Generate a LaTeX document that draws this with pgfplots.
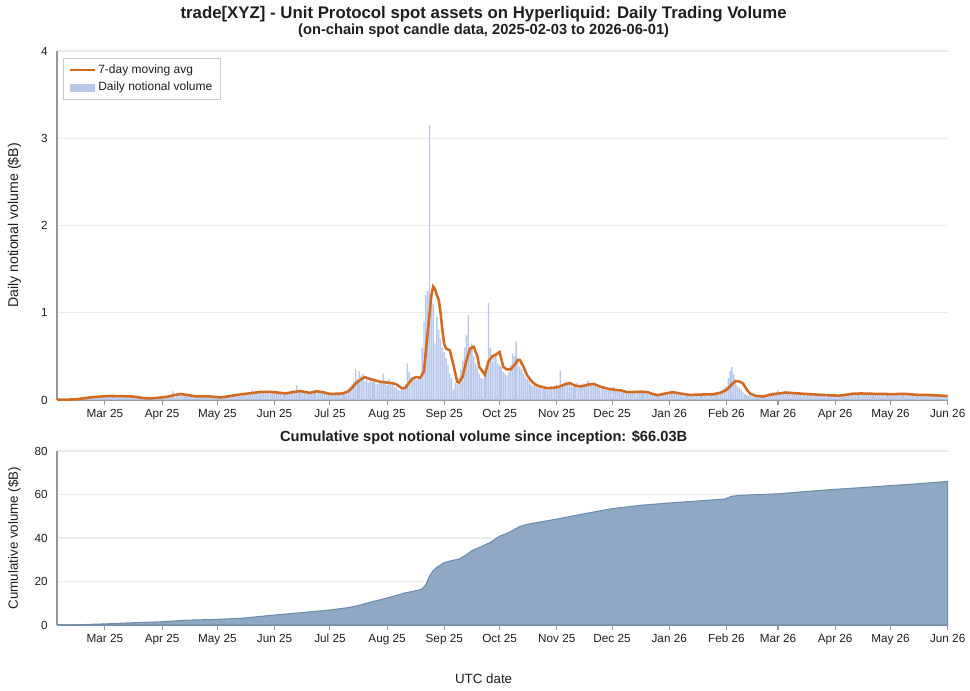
\documentclass[border=0pt]{standalone}
\usepackage{fontspec}
\setmainfont{Liberation Sans}
\usepackage{pgfplots}
\pgfplotsset{compat=1.18}
\usepackage{pgfplotstable}
\definecolor{barblue}{RGB}{184,199,234}
\definecolor{maorange}{RGB}{212,105,32}
\definecolor{cumfill}{RGB}{143,169,196}
\definecolor{cumline}{RGB}{110,140,175}
\definecolor{axisgray}{RGB}{150,150,150}
\definecolor{gridgray}{RGB}{236,236,236}
\definecolor{txtgray}{RGB}{30,30,30}

\pgfplotstableread[header=false,row sep=\\]{
0.002\\0.003\\0.004\\0.003\\0.005\\0.004\\0.006\\
0.005\\0.008\\0.006\\0.010\\0.012\\0.015\\0.018\\
0.020\\0.025\\0.022\\0.030\\0.028\\0.035\\0.032\\
0.040\\0.038\\0.045\\0.042\\0.050\\0.044\\0.048\\
0.052\\0.046\\0.040\\0.050\\0.044\\0.038\\0.046\\
0.042\\0.048\\0.040\\0.045\\0.038\\0.044\\0.036\\
0.034\\0.030\\0.028\\0.026\\0.022\\0.018\\0.020\\
0.016\\0.020\\0.024\\0.022\\0.028\\0.030\\0.034\\
0.030\\0.036\\0.040\\0.034\\0.042\\0.048\\0.060\\
0.100\\0.065\\0.070\\0.080\\0.072\\0.060\\0.058\\
0.050\\0.045\\0.040\\0.044\\0.038\\0.042\\0.046\\
0.040\\0.044\\0.048\\0.042\\0.038\\0.044\\0.040\\
0.036\\0.032\\0.030\\0.028\\0.026\\0.030\\0.034\\
0.040\\0.045\\0.052\\0.048\\0.056\\0.060\\0.054\\
0.062\\0.070\\0.066\\0.074\\0.080\\0.078\\0.085\\
0.090\\0.120\\0.085\\0.095\\0.080\\0.100\\0.088\\
0.092\\0.110\\0.085\\0.090\\0.096\\0.080\\0.088\\
0.082\\0.076\\0.070\\0.078\\0.066\\0.074\\0.080\\
0.090\\0.098\\0.110\\0.095\\0.170\\0.105\\0.112\\
0.100\\0.088\\0.075\\0.082\\0.090\\0.100\\0.110\\
0.115\\0.095\\0.105\\0.090\\0.080\\0.074\\0.068\\
0.064\\0.070\\0.072\\0.080\\0.068\\0.075\\0.082\\
0.078\\0.070\\0.085\\0.095\\0.110\\0.150\\0.180\\
0.220\\0.350\\0.240\\0.330\\0.280\\0.300\\0.220\\
0.240\\0.200\\0.260\\0.210\\0.230\\0.190\\0.180\\
0.220\\0.200\\0.300\\0.190\\0.170\\0.240\\0.180\\
0.200\\0.150\\0.140\\0.120\\0.110\\0.130\\0.140\\
0.180\\0.420\\0.320\\0.260\\0.240\\0.250\\0.230\\
0.280\\0.260\\0.600\\0.900\\1.200\\1.250\\3.150\\
1.200\\1.100\\0.650\\0.950\\0.800\\0.700\\0.600\\
0.550\\0.480\\0.400\\0.300\\0.250\\0.120\\0.200\\
0.180\\0.250\\0.350\\0.450\\0.600\\0.740\\0.970\\
0.560\\0.650\\0.500\\0.420\\0.380\\0.300\\0.250\\
0.240\\0.350\\0.400\\1.110\\0.600\\0.450\\0.500\\
0.520\\0.420\\0.400\\0.380\\0.320\\0.300\\0.280\\
0.320\\0.400\\0.530\\0.500\\0.670\\0.450\\0.380\\
0.350\\0.300\\0.260\\0.240\\0.220\\0.180\\0.160\\
0.170\\0.150\\0.140\\0.160\\0.130\\0.140\\0.150\\
0.120\\0.140\\0.160\\0.130\\0.150\\0.180\\0.140\\
0.340\\0.170\\0.200\\0.220\\0.180\\0.190\\0.160\\
0.150\\0.180\\0.200\\0.140\\0.160\\0.190\\0.170\\
0.200\\0.220\\0.180\\0.160\\0.200\\0.170\\0.150\\
0.140\\0.130\\0.160\\0.120\\0.130\\0.110\\0.120\\
0.130\\0.150\\0.110\\0.100\\0.120\\0.090\\0.100\\
0.080\\0.090\\0.100\\0.085\\0.095\\0.090\\0.100\\
0.110\\0.095\\0.085\\0.100\\0.090\\0.080\\0.075\\
0.065\\0.060\\0.055\\0.050\\0.060\\0.065\\0.070\\
0.080\\0.085\\0.090\\0.095\\0.085\\0.090\\0.080\\
0.075\\0.070\\0.065\\0.060\\0.055\\0.060\\0.058\\
0.055\\0.060\\0.065\\0.070\\0.060\\0.065\\0.062\\
0.060\\0.070\\0.065\\0.060\\0.058\\0.068\\0.075\\
0.080\\0.085\\0.090\\0.100\\0.120\\0.140\\0.160\\
0.250\\0.330\\0.380\\0.300\\0.200\\0.160\\0.140\\
0.120\\0.090\\0.070\\0.060\\0.050\\0.045\\0.040\\
0.038\\0.040\\0.042\\0.045\\0.050\\0.055\\0.060\\
0.070\\0.075\\0.080\\0.090\\0.085\\0.095\\0.120\\
0.090\\0.085\\0.080\\0.100\\0.085\\0.080\\0.078\\
0.075\\0.080\\0.070\\0.075\\0.068\\0.072\\0.070\\
0.068\\0.065\\0.070\\0.062\\0.065\\0.060\\0.058\\
0.055\\0.060\\0.050\\0.052\\0.048\\0.050\\0.045\\
0.048\\0.050\\0.045\\0.048\\0.052\\0.045\\0.050\\
0.060\\0.065\\0.075\\0.080\\0.090\\0.075\\0.080\\
0.078\\0.070\\0.075\\0.080\\0.072\\0.068\\0.070\\
0.065\\0.070\\0.068\\0.072\\0.065\\0.070\\0.075\\
0.068\\0.065\\0.070\\0.072\\0.068\\0.075\\0.070\\
0.068\\0.072\\0.070\\0.075\\0.080\\0.072\\0.068\\
0.065\\0.060\\0.062\\0.058\\0.060\\0.055\\0.058\\
0.060\\0.062\\0.058\\0.055\\0.060\\0.058\\0.055\\
0.052\\0.055\\0.050\\0.052\\0.048\\0.050\\0.046\\
0.045\\
}\daily

\pgfplotstableread{
d v
0 0.003
5 0.004
10 0.008
14 0.018
17 0.027
21 0.036
26 0.043
30 0.046
34 0.045
37 0.042
41 0.040
44 0.032
47 0.022
50 0.018
53 0.022
56 0.028
60 0.038
64 0.058
67 0.069
70 0.060
75 0.042
79 0.042
82 0.042
86 0.034
89 0.030
93 0.042
96 0.053
100 0.066
105 0.078
110 0.092
114 0.094
117 0.092
121 0.082
124 0.076
128 0.090
132 0.103
135 0.090
137 0.082
141 0.100
144 0.090
148 0.070
152 0.072
155 0.076
158 0.100
160 0.140
162 0.190
165 0.240
167 0.262
169 0.245
172 0.228
175 0.210
179 0.200
182 0.192
184 0.180
187 0.135
189 0.140
191 0.200
193 0.250
195 0.262
197 0.255
199 0.330
201 0.770
203 1.200
204 1.300
205 1.270
206 1.200
207 1.150
208 1.000
209 0.800
210 0.640
211 0.590
213 0.570
215 0.400
217 0.210
218 0.200
220 0.270
222 0.450
224 0.590
226 0.610
228 0.500
229 0.380
231 0.320
232 0.290
234 0.440
236 0.500
238 0.520
240 0.550
242 0.380
244 0.350
246 0.350
248 0.400
250 0.460
251 0.460
253 0.380
255 0.280
258 0.200
260 0.170
263 0.150
266 0.135
269 0.140
272 0.150
275 0.175
278 0.195
281 0.165
284 0.155
288 0.175
291 0.185
295 0.150
299 0.128
303 0.115
306 0.110
309 0.090
313 0.092
317 0.095
320 0.092
323 0.070
326 0.056
330 0.075
334 0.090
338 0.075
343 0.058
348 0.062
352 0.064
356 0.066
360 0.085
363 0.115
366 0.180
368 0.218
370 0.212
372 0.190
374 0.120
376 0.070
379 0.048
383 0.040
387 0.062
392 0.076
395 0.086
400 0.078
406 0.070
412 0.062
418 0.055
424 0.050
428 0.060
432 0.072
436 0.075
445 0.070
453 0.068
460 0.070
466 0.060
472 0.058
478 0.052
483 0.046
}\mavg

\pgfplotstableread{
d c
0 0
10 0.05
20 0.35
26 0.5
40 1.0
57 1.5
70 2.2
87 2.6
100 3.1
105 3.5
118 4.6
133 5.7
148 6.9
159 8.1
165 9.3
170 10.5
179 12.4
189 14.8
196 16.0
198 16.6
200 18.5
202 22.5
204 25.0
206 26.5
210 28.7
215 29.8
218 30.3
222 32.3
225 34.2
230 36.0
235 38.0
240 40.8
245 42.5
251 45.3
255 46.3
261 47.2
271 48.7
285 51.0
301 53.5
316 55.0
332 56.1
347 57.0
362 57.9
366 59.2
370 59.6
391 60.3
405 61.3
422 62.4
437 63.2
452 64.1
468 65.0
483 66.03
}\cumul

\pgfplotsset{
  mybase/.style={
    scale only axis,
    width=668pt,
    xmin=0, xmax=483,
    axis x line*=bottom,
    axis y line*=left,
    axis line style={-, draw=axisgray, line width=0.8pt},
    xtick={26,57,87,118,148,179,210,240,271,301,332,363,391,422,452,483},
    xticklabels={Mar 25,Apr 25,May 25,Jun 25,Jul 25,Aug 25,Sep 25,Oct 25,Nov 25,Dec 25,Jan 26,Feb 26,Mar 26,Apr 26,May 26,Jun 26},
    tick align=outside,
    major tick length=3.5pt,
    xtick style={draw=axisgray, line width=0.8pt},
    ytick style={draw=none},
    ymajorgrids,
    grid style={draw=gridgray, line width=0.9pt},
    tick label style={font=\fontsize{8.8}{10}\selectfont, text=txtgray},
    /pgf/number format/assume math mode=true,
    clip=false,
  }
}

\begin{document}
\begin{tikzpicture}
\begin{axis}[mybase,
  at={(0,0)}, anchor=south west,
  height=261.75pt,
  ymin=0, ymax=4,
  ytick={0,1,2,3,4},
  ylabel={Daily notional volume (\$B)},
  ylabel style={at={(axis description cs:-0.048,0.5)}, anchor=center, font=\fontsize{10.6}{12}\selectfont, text=txtgray},
  legend style={at={(axis description cs:0.007,0.98)}, anchor=north west,
    draw=gridgray!70!gray, fill=white,
    font=\fontsize{9}{11}\selectfont, text=txtgray, row sep=1pt,
    inner xsep=4pt, inner ysep=3pt},
  legend cell align=left,
  legend image code/.code={\draw[#1] (0cm,0cm) -- (0.65cm,0cm);},
]
\addplot[ybar, bar width=0.74, fill=barblue, draw=none, forget plot]
  table[x expr=\coordindex, y index=0] {\daily};
\addplot[maorange, line width=1.9pt, forget plot] table[x=d, y=v] {\mavg};
\addlegendimage{maorange, line width=1.6pt}
\addlegendentry{7-day moving avg}
\addlegendimage{legend image code/.code={\fill[barblue] (0cm,-0.1cm) rectangle (0.65cm,0.1cm);}}
\addlegendentry{Daily notional volume}
\node[font=\bfseries\fontsize{12.6}{14}\selectfont, text=txtgray] at (axis description cs:0.479,1.105) {trade[XYZ] - Unit Protocol spot assets on Hyperliquid: Daily Trading Volume};
\node[font=\bfseries\fontsize{11}{13}\selectfont, text=txtgray] at (axis description cs:0.479,1.058) {(on-chain spot candle data, 2025-02-03 to 2026-06-01)};
\end{axis}

\begin{axis}[mybase,
  at={(0,-168.75pt)}, anchor=south west,
  height=130.5pt,
  ymin=0, ymax=80,
  ytick={0,20,40,60,80},
  ylabel={Cumulative volume (\$B)},
  ylabel style={at={(axis description cs:-0.048,0.5)}, anchor=center, font=\fontsize{10}{12}\selectfont, text=txtgray},
  xlabel={UTC date},
  xlabel style={at={(axis description cs:0.479,-0.31)}, anchor=center, font=\fontsize{10}{12}\selectfont, text=txtgray},
]
\addplot[fill=cumfill, draw=cumline, line width=0.8pt] table[x=d, y=c] {\cumul} \closedcycle;
\node[font=\bfseries\fontsize{11}{13}\selectfont, text=txtgray] at (axis description cs:0.479,1.075) {Cumulative spot notional volume since inception: \$66.03B};
\end{axis}
\path (-42.75pt,-217.5pt) rectangle (684.75pt,300pt);
\end{tikzpicture}
\end{document}
